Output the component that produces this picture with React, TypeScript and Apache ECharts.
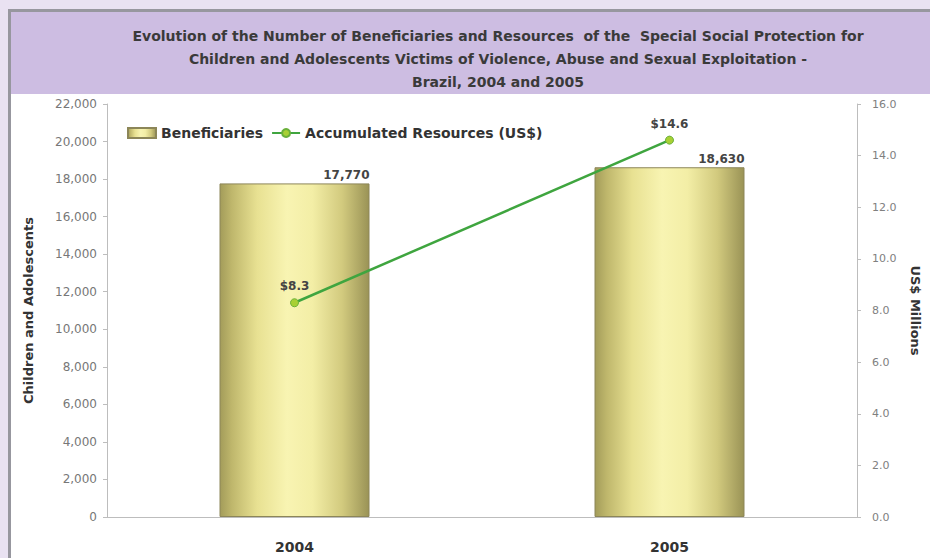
import React, { useEffect, useRef } from "react";
import * as echarts from "echarts";

const categories = ["2004", "2005"];
const beneficiaries = [17770, 18630];
const resources = [8.3, 14.6];
const titleLines = [
  "Evolution of the Number of Beneficiaries and Resources  of the  Special Social Protection for",
  "Children and Adolescents Victims of Violence, Abuse and Sexual Exploitation -",
  "Brazil, 2004 and 2005",
];

export default function App() {
  const ref = useRef<HTMLDivElement>(null);
  useEffect(() => {
    document.body.style.margin = "0";
    const chart = echarts.init(ref.current!, undefined, { renderer: "svg" });
    const font = "'DejaVu Sans', sans-serif";
    const barGrad = new echarts.graphic.LinearGradient(0, 0, 1, 0, [
      { offset: 0, color: "#a39c5a" },
      { offset: 0.08, color: "#bfb76c" },
      { offset: 0.25, color: "#e8e192" },
      { offset: 0.45, color: "#f8f4b2" },
      { offset: 0.62, color: "#f3eea6" },
      { offset: 0.82, color: "#d2ca7e" },
      { offset: 1, color: "#9a9356" },
    ]);
    chart.setOption({
      animation: false,
      backgroundColor: "#e9e2f2",
      graphic: [
        { type: "rect", shape: { x: 8, y: 9, width: 930, height: 560 }, style: { fill: "#97979f" }, z: -10 },
        { type: "rect", shape: { x: 11, y: 12, width: 930, height: 560 }, style: { fill: "#ffffff" }, z: -9 },
        { type: "rect", shape: { x: 11, y: 12, width: 930, height: 82 }, style: { fill: "#cdbde2" }, z: -8 },
      ],
      title: {
        text: titleLines.join("\n"),
        left: 493,
        top: 19,
        textAlign: "center",
        textStyle: { fontFamily: font, fontSize: 14, fontWeight: "bold", color: "#3a3a3a", lineHeight: 23 },
      },
      legend: {
        left: 122,
        top: 121,
        itemWidth: 28,
        itemHeight: 10,
        itemGap: 8,
        textStyle: { fontFamily: font, fontSize: 14, fontWeight: "bold", color: "#333" },
        data: [
          { name: "Beneficiaries", icon: "rect" },
          { name: "Accumulated Resources (US$)" },
        ],
      },
      grid: { left: 107, right: 68, top: 104, bottom: 41 },
      xAxis: {
        type: "category",
        data: categories,
        axisLine: { lineStyle: { color: "#bdbdbd" } },
        axisTick: { length: 5, lineStyle: { color: "#bdbdbd" } },
        axisLabel: { fontFamily: font, fontSize: 14, fontWeight: "bold", color: "#333", margin: 23 },
      },
      yAxis: [
        {
          type: "value",
          min: 0,
          max: 22000,
          interval: 2000,
          name: "Children and Adolescents",
          nameLocation: "middle",
          nameGap: 72,
          nameTextStyle: { fontFamily: font, fontSize: 13, fontWeight: "bold", color: "#333" },
          axisLine: { show: true, lineStyle: { color: "#bdbdbd" } },
          axisTick: { show: true, length: 4, lineStyle: { color: "#bdbdbd" } },
          splitLine: { show: false },
          axisLabel: {
            fontFamily: font,
            fontSize: 12,
            color: "#777",
            margin: 10,
            formatter: (v: number) => v.toLocaleString("en-US"),
          },
        },
        {
          type: "value",
          min: 0,
          max: 16,
          interval: 2,
          name: "US$ Millions",
          nameLocation: "middle",
          nameGap: 52,
          nameRotate: -90,
          nameTextStyle: { fontFamily: font, fontSize: 13, fontWeight: "bold", color: "#333" },
          axisLine: { show: true, lineStyle: { color: "#bdbdbd" } },
          axisTick: { show: true, length: 4, lineStyle: { color: "#bdbdbd" } },
          splitLine: { show: false },
          axisLabel: {
            fontFamily: font,
            fontSize: 11,
            color: "#808080",
            margin: 15,
            formatter: (v: number) => v.toFixed(1),
          },
        },
      ],
      series: [
        {
          name: "Beneficiaries",
          type: "bar",
          data: beneficiaries,
          barWidth: "40%",
          itemStyle: { color: barGrad, borderColor: "#8c8658", borderWidth: 1 },
          label: {
            show: true,
            position: ["100%", -2],
            align: "right",
            verticalAlign: "bottom",
            fontFamily: font,
            fontSize: 12,
            fontWeight: "bold",
            color: "#444",
            formatter: (p: any) => p.value.toLocaleString("en-US"),
          },
        },
        {
          name: "Accumulated Resources (US$)",
          type: "line",
          yAxisIndex: 1,
          data: resources,
          symbol: "circle",
          symbolSize: 8,
          lineStyle: { color: "#3fa53f", width: 2.5 },
          itemStyle: { color: "#a8d034", borderColor: "#6ab03a", borderWidth: 1 },
          label: {
            show: true,
            position: "top",
            distance: 6,
            fontFamily: font,
            fontSize: 12,
            fontWeight: "bold",
            color: "#444",
            formatter: (p: any) => "$" + p.value.toFixed(1),
          },
          z: 5,
        },
      ],
    });
    return () => chart.dispose();
  }, []);
  return <div ref={ref} style={{ position: "fixed", left: 0, top: 0, width: 930, height: 558 }} />;
}
